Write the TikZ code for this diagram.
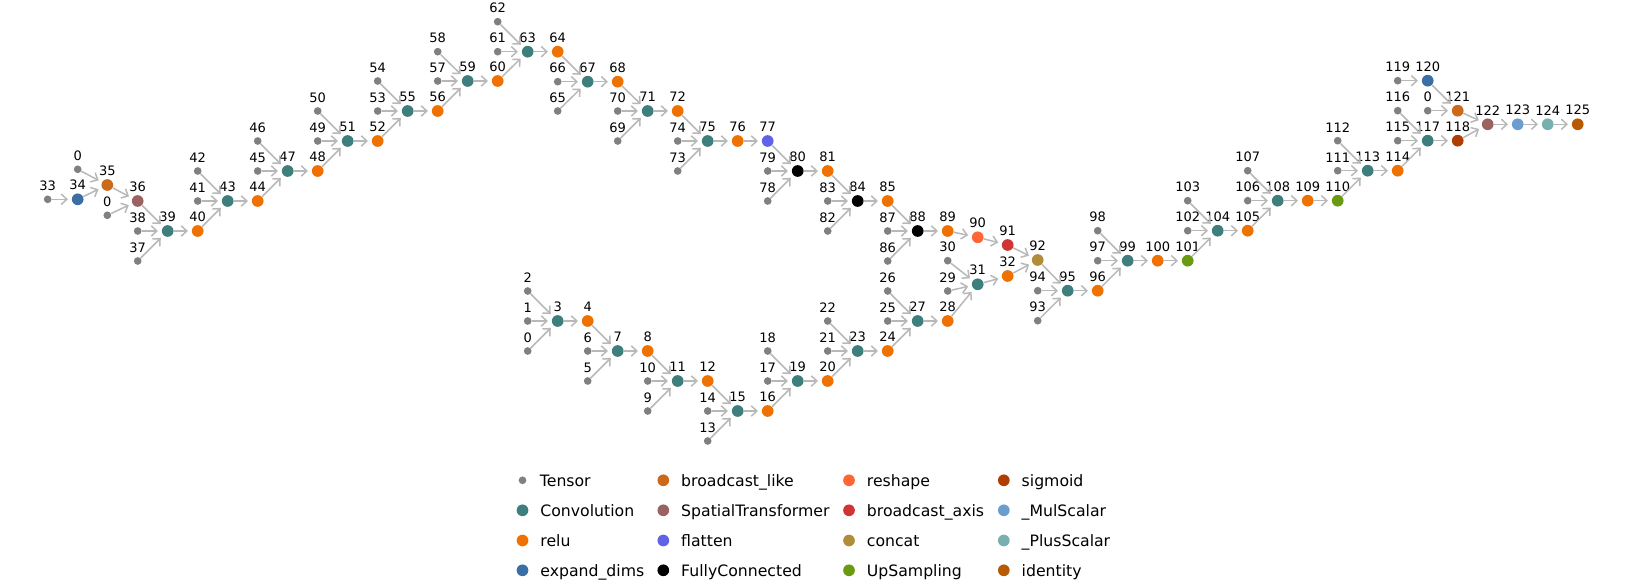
\documentclass[tikz,border=0pt]{standalone}
\usepackage{fontspec}
\setmainfont{DejaVu Sans}
\usepackage{tikz}
\usetikzlibrary{arrows.meta}
\definecolor{tgray}{HTML}{808080}
\definecolor{egray}{HTML}{B8B8B8}
\definecolor{cconv}{HTML}{3E7F7E}
\definecolor{crelu}{HTML}{EF7102}
\definecolor{cexp}{HTML}{3A6EA5}
\definecolor{cbcl}{HTML}{CC6A1C}
\definecolor{cstn}{HTML}{9B6262}
\definecolor{cflat}{HTML}{6262E6}
\definecolor{cfc}{HTML}{000000}
\definecolor{cresh}{HTML}{FF6633}
\definecolor{cbca}{HTML}{D03535}
\definecolor{ccat}{HTML}{B08D39}
\definecolor{cups}{HTML}{6A9A10}
\definecolor{csig}{HTML}{B03E00}
\definecolor{cmul}{HTML}{6B9ECF}
\definecolor{cplus}{HTML}{78AFAF}
\definecolor{cid}{HTML}{B85A04}

\begin{document}
\begin{tikzpicture}[x=0.5pt,y=-0.5pt,font=\fontsize{6.5pt}{8pt}\selectfont,
  lbl/.style={inner sep=0pt,text=black},
  tensor/.style={circle,fill=tgray,inner sep=0pt,minimum size=3.85pt,
    label={[lbl,label distance=2pt]90:#1}},
  op/.style={circle,inner sep=0pt,minimum size=5.85pt},
  edge/.style={draw=egray,line width=0.75pt,shorten >=1.75pt,
    -{Straight Barb[length=2.8pt,width=5.2pt]}},
  legtext/.style={anchor=base west,inner sep=0pt,font=\fontsize{7.85pt}{9pt}\selectfont}]
  \useasboundingbox (0,0) rectangle (1626,588);
  % inputs and weights
  \foreach \id/\x/\y/\lab in {33/47.7/199.3/33, 0a/77.7/169.3/0, 0b/107.3/215.3/0,
    38/137.7/231/38, 37/137.7/261/37, 42/197.7/171/42, 41/197.7/201/41,
    46/257.7/141/46, 45/257.7/171/45, 50/317.7/111/50, 49/317.7/141/49,
    54/377.7/81/54, 53/377.7/111/53, 58/437.7/51.7/58, 57/437.7/81/57,
    62/497.7/21.7/62, 61/497.7/51.7/61, 66/557.7/81.7/66, 65/557.7/111/65,
    70/617.7/111/70, 69/617.7/141/69, 74/677.7/141/74, 73/677.7/171/73,
    79/767.7/171/79, 78/767.7/201/78, 83/827.7/201/83, 82/827.7/231/82,
    87/887.7/231/87, 86/887.7/261/86, 98/1097.7/230.7/98, 97/1097.7/260.7/97,
    94/1037.7/290.7/94, 93/1037.7/320.7/93, 103/1187.7/200.7/103, 102/1187.7/230.7/102,
    107/1247.7/170.7/107, 106/1247.7/200.7/106, 112/1337.7/140.7/112, 111/1337.7/170.7/111,
    116/1397.7/110.7/116, 115/1397.7/140.7/115, 119/1397.7/80.7/119, 0c/1427.7/110.7/0,
    2/527.7/291/2, 1/527.7/321/1, 0/527.7/351/0, 6/587.7/351/6, 5/587.7/381/5,
    10/647.7/381/10, 9/647.7/411/9, 14/707.7/411/14, 13/707.7/441/13,
    18/767.7/351/18, 17/767.7/381/17, 22/827.7/321/22, 21/827.7/351/21,
    26/887.7/291/26, 25/887.7/321/25, 30/947.7/260.7/30, 29/947.7/291/29}
    \node[tensor=\lab] (t\id) at (\x,\y) {};
  % operators
  \foreach \id/\x/\y/\col in {34/77.7/199.3/cexp, 35/107.3/185/cbcl, 36/137.7/201/cstn,
    39/167.7/231/cconv, 40/197.7/231/crelu, 43/227.7/201/cconv, 44/257.7/201/crelu,
    47/287.7/171/cconv, 48/317.7/171/crelu, 51/347.7/141/cconv, 52/377.7/141/crelu,
    55/407.7/111/cconv, 56/437.7/111/crelu, 59/467.7/81/cconv, 60/497.7/81/crelu,
    63/527.7/51.7/cconv, 64/557.7/51.7/crelu, 67/587.7/81.7/cconv, 68/617.7/81.7/crelu,
    71/647.7/111/cconv, 72/677.7/111/crelu, 75/707.7/141/cconv, 76/737.7/141/crelu,
    77/767.7/141/cflat, 80/797.7/171/cfc, 81/827.7/171/crelu, 84/857.7/201/cfc,
    85/887.7/201/crelu, 88/917.7/231/cfc, 89/947.7/231/crelu, 90/977.7/237.3/cresh,
    91/1007.7/245/cbca, 92/1037.7/260/ccat, 95/1067.7/290.7/cconv, 96/1097.7/290.7/crelu,
    99/1127.7/260.7/cconv, 100/1157.7/260.7/crelu, 101/1187.7/260.7/cups,
    104/1217.7/230.7/cconv, 105/1247.7/230.7/crelu, 108/1277.7/200.7/cconv,
    109/1307.7/200.7/crelu, 110/1337.7/200.7/cups, 113/1367.7/170.7/cconv,
    114/1397.7/170.7/crelu, 117/1427.7/140.7/cconv, 118/1457.7/140.7/csig,
    120/1427.7/80.7/cexp, 121/1457.7/110.7/cbcl, 122/1487.7/124.3/cstn,
    123/1517.7/124.3/cmul, 124/1547.7/124.3/cplus, 125/1577.7/124.3/cid,
    3/557.7/321/cconv, 4/587.7/321/crelu, 7/617.7/351/cconv, 8/647.7/351/crelu,
    11/677.7/381/cconv, 12/707.7/381/crelu, 15/737.7/411/cconv, 16/767.7/411/crelu,
    19/797.7/381/cconv, 20/827.7/381/crelu, 23/857.7/351/cconv, 24/887.7/351/crelu,
    27/917.7/321/cconv, 28/947.7/321/crelu, 31/977.7/284.3/cconv, 32/1007.7/276/crelu}
    \node[op,fill=\col,label={[lbl,label distance=1.3pt]90:\id}] (n\id) at (\x,\y) {};
  % edges
  \foreach \a/\b in {t33/n34, n34/n35, t0a/n35, n35/n36, t0b/n36, n36/n39, t38/n39, t37/n39,
    n39/n40, n40/n43, t41/n43, t42/n43, n43/n44, n44/n47, t45/n47, t46/n47,
    n47/n48, n48/n51, t49/n51, t50/n51, n51/n52, n52/n55, t53/n55, t54/n55,
    n55/n56, n56/n59, t57/n59, t58/n59, n59/n60, n60/n63, t61/n63, t62/n63,
    n63/n64, n64/n67, t66/n67, t65/n67, n67/n68, n68/n71, t70/n71, t69/n71,
    n71/n72, n72/n75, t74/n75, t73/n75, n75/n76, n76/n77, n77/n80, t79/n80, t78/n80,
    n80/n81, n81/n84, t83/n84, t82/n84, n84/n85, n85/n88, t87/n88, t86/n88,
    n88/n89, n89/n90, n90/n91, n91/n92, n32/n92, n92/n95, t94/n95, t93/n95,
    n95/n96, n96/n99, t97/n99, t98/n99, n99/n100, n100/n101, n101/n104, t102/n104, t103/n104,
    n104/n105, n105/n108, t106/n108, t107/n108, n108/n109, n109/n110, n110/n113, t111/n113, t112/n113,
    n113/n114, n114/n117, t115/n117, t116/n117, n117/n118, t119/n120, n120/n121, t0c/n121,
    n121/n122, n118/n122, n122/n123, n123/n124, n124/n125,
    t0/n3, t1/n3, t2/n3, n3/n4, n4/n7, t6/n7, t5/n7, n7/n8, n8/n11, t10/n11, t9/n11,
    n11/n12, n12/n15, t14/n15, t13/n15, n15/n16, n16/n19, t17/n19, t18/n19,
    n19/n20, n20/n23, t21/n23, t22/n23, n23/n24, n24/n27, t25/n27, t26/n27,
    n27/n28, n28/n31, t29/n31, t30/n31, n31/n32}
    \draw[edge] (\a) -- (\b);
  % legend
  \node[circle,fill=tgray,inner sep=0pt,minimum size=3.85pt] (lm0) at (522.5,480.3) {};
  \node[legtext] (lt0) at (539.5,486) {Tensor};
  \foreach \i/\x/\y/\col/\txt in {1/522.5/510.3/cconv/Convolution, 2/522.5/540.5/crelu/relu,
    3/522.5/570.3/cexp/expand\_dims, 4/663.3/480.3/cbcl/broadcast\_like,
    5/663.3/510.3/cstn/SpatialTransformer, 6/663.3/540.5/cflat/flatten,
    7/663.3/570.3/cfc/FullyConnected, 8/849/480.3/cresh/reshape,
    9/849/510.3/cbca/broadcast\_axis, 10/849/540.5/ccat/concat,
    11/849/570.3/cups/UpSampling, 12/1003.8/480.3/csig/sigmoid,
    13/1003.8/510.3/cmul/\_MulScalar, 14/1003.8/540.5/cplus/\_PlusScalar,
    15/1003.8/570.3/cid/identity}{
    \node[op,fill=\col] (lm\i) at (\x,\y) {};
    \node[legtext] (lt\i) at (\x+17.5,\y+5.7) {\txt};
  }
\end{tikzpicture}
\end{document}
